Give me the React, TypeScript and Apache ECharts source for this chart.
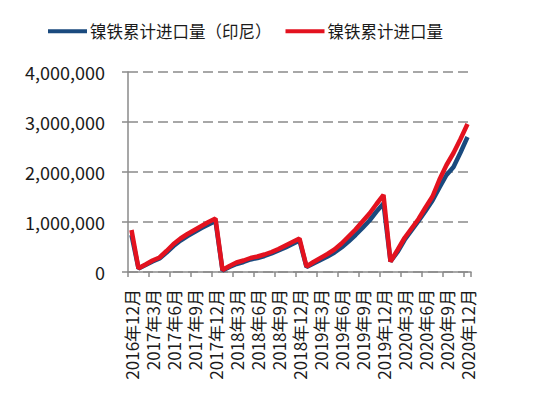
import React, { useEffect, useRef } from "react";
import * as echarts from "echarts";

const categories = [
  "2016年12月",
  "2017年1月", "2017年2月", "2017年3月", "2017年4月", "2017年5月", "2017年6月",
  "2017年7月", "2017年8月", "2017年9月", "2017年10月", "2017年11月", "2017年12月",
  "2018年1月", "2018年2月", "2018年3月", "2018年4月", "2018年5月", "2018年6月",
  "2018年7月", "2018年8月", "2018年9月", "2018年10月", "2018年11月", "2018年12月",
  "2019年1月", "2019年2月", "2019年3月", "2019年4月", "2019年5月", "2019年6月",
  "2019年7月", "2019年8月", "2019年9月", "2019年10月", "2019年11月", "2019年12月",
  "2020年1月", "2020年2月", "2020年3月", "2020年4月", "2020年5月", "2020年6月",
  "2020年7月", "2020年8月", "2020年9月", "2020年10月", "2020年11月", "2020年12月",
];

const indonesiaSeriesName = "镍铁累计进口量（印尼）";
const totalSeriesName = "镍铁累计进口量";

const indonesia2016 = [740000];
const indonesia2017 = [70000, 140000, 210000, 270000, 390000, 520000, 630000, 720000, 800000, 880000, 950000, 1020000];
const indonesia2018 = [30000, 100000, 160000, 200000, 250000, 280000, 320000, 370000, 430000, 490000, 560000, 630000];
const indonesia2019 = [100000, 170000, 240000, 310000, 390000, 490000, 610000, 740000, 880000, 1030000, 1210000, 1370000];
const indonesia2020 = [210000, 400000, 640000, 830000, 1020000, 1220000, 1430000, 1690000, 1940000, 2100000, 2390000, 2700000];

const total2016 = [840000];
const total2017 = [74000, 150000, 230000, 290000, 420000, 560000, 670000, 760000, 840000, 920000, 1000000, 1070000];
const total2018 = [40000, 120000, 190000, 230000, 280000, 310000, 350000, 400000, 460000, 530000, 600000, 670000];
const total2019 = [110000, 200000, 280000, 360000, 450000, 570000, 710000, 850000, 1010000, 1170000, 1360000, 1540000];
const total2020 = [210000, 440000, 680000, 870000, 1060000, 1290000, 1510000, 1850000, 2140000, 2380000, 2660000, 2960000];

const yTicks = [0, 1000000, 2000000, 3000000, 4000000];

export default function App() {
  const ref = useRef<HTMLDivElement>(null);

  useEffect(() => {
    if (!ref.current) return;
    const chart = echarts.init(ref.current, null, { renderer: "svg" });
    const indonesia = [...indonesia2016, ...indonesia2017, ...indonesia2018, ...indonesia2019, ...indonesia2020];
    const total = [...total2016, ...total2017, ...total2018, ...total2019, ...total2020];
    const font = "'Noto Sans CJK SC', 'Noto Sans', sans-serif";
    chart.setOption({
      animation: false,
      textStyle: { fontFamily: font },
      legend: {
        left: 43,
        top: 18,
        itemWidth: 39,
        itemHeight: 4,
        itemGap: 14,
        icon: "rect",
        textStyle: { fontSize: 16.5, color: "#1a1a1a", fontFamily: font, padding: [0, 0, 0, -2] },
        data: [indonesiaSeriesName, totalSeriesName],
      },
      grid: { left: 128, right: 79, top: 72, bottom: 122, containLabel: false },
      xAxis: {
        type: "category",
        data: categories,
        boundaryGap: true,
        axisLine: { lineStyle: { color: "#8a8a8a", width: 1.5 } },
        axisTick: { show: true, interval: 2, length: 5, lineStyle: { color: "#8a8a8a", width: 1.5 } },
        axisLabel: {
          interval: 2,
          rotate: 90,
          margin: 17,
          fontSize: 17,
          color: "#1a1a1a",
          fontFamily: font,
        },
      },
      yAxis: {
        type: "value",
        min: yTicks[0],
        max: yTicks[yTicks.length - 1],
        interval: 1000000,
        axisLine: { show: true, lineStyle: { color: "#8a8a8a", width: 1.5 } },
        axisTick: { show: true, length: 6, lineStyle: { color: "#8a8a8a", width: 1.5 } },
        axisLabel: {
          margin: 23,
          fontSize: 18,
          color: "#1a1a1a",
          fontFamily: font,
          formatter: (v: number) => v.toLocaleString("en-US"),
        },
        splitLine: {
          show: true,
          lineStyle: { color: "#8a8a8a", width: 1.5, type: [10, 5] },
        },
      },
      series: [
        {
          name: indonesiaSeriesName,
          type: "line",
          data: indonesia,
          symbol: "none",
          lineStyle: { color: "#1a4a7e", width: 4.5 },
          itemStyle: { color: "#1a4a7e" },
        },
        {
          name: totalSeriesName,
          type: "line",
          data: total,
          symbol: "none",
          lineStyle: { color: "#e3121f", width: 4.5 },
          itemStyle: { color: "#e3121f" },
        },
      ],
    });
    return () => chart.dispose();
  }, []);

  return (
    <div
      ref={ref}
      style={{ position: "fixed", left: 0, top: 0, width: 550, height: 394, background: "#fff" }}
    />
  );
}
